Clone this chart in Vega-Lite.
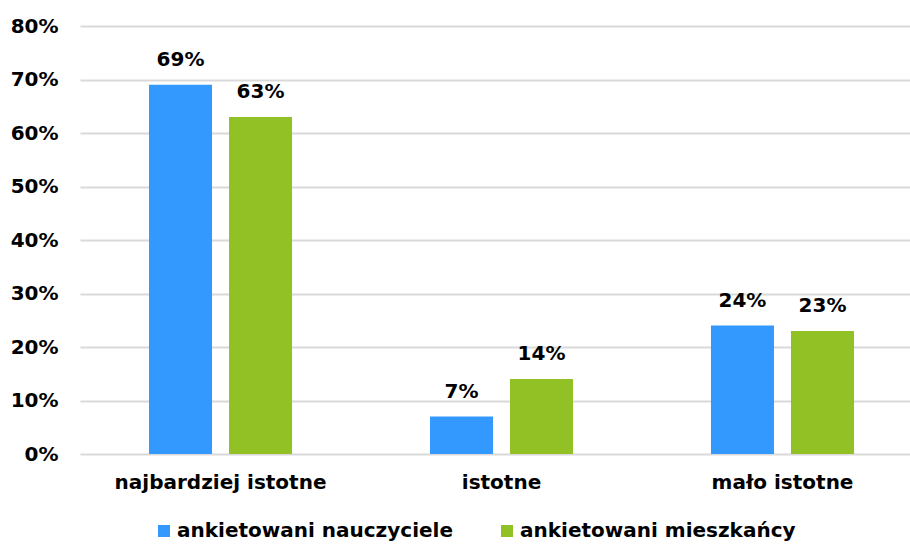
{
  "$schema": "https://vega.github.io/schema/vega-lite/v6.json",
  "width": 843,
  "height": 428,
  "padding": {"left": 10, "top": 16, "right": 0, "bottom": 0},
  "background": "white",
  "config": {
    "font": "DejaVu Sans",
    "view": {"stroke": null},
    "axis": {"labelFont": "DejaVu Sans", "labelFontWeight": "bold", "labelColor": "#000000"}
  },
  "data": {
    "values": [
      {"kategoria": "najbardziej istotne", "grupa": "ankietowani nauczyciele", "wartosc": 0.69},
      {"kategoria": "najbardziej istotne", "grupa": "ankietowani mieszkańcy", "wartosc": 0.63},
      {"kategoria": "istotne", "grupa": "ankietowani nauczyciele", "wartosc": 0.07},
      {"kategoria": "istotne", "grupa": "ankietowani mieszkańcy", "wartosc": 0.14},
      {"kategoria": "mało istotne", "grupa": "ankietowani nauczyciele", "wartosc": 0.24},
      {"kategoria": "mało istotne", "grupa": "ankietowani mieszkańcy", "wartosc": 0.23}
    ]
  },
  "encoding": {
    "x": {
      "field": "kategoria", "type": "nominal",
      "sort": ["najbardziej istotne", "istotne", "mało istotne"],
      "scale": {"paddingInner": 0.491, "paddingOuter": 0.2456},
      "axis": {"title": null, "labelAngle": 0, "domain": false, "ticks": false, "labelFontSize": 20, "labelPadding": 18, "labelLimit": 400}
    },
    "xOffset": {
      "field": "grupa", "type": "nominal",
      "sort": ["ankietowani nauczyciele", "ankietowani mieszkańcy"],
      "scale": {"paddingInner": 0.2125, "paddingOuter": 0}
    },
    "y": {
      "field": "wartosc", "type": "quantitative",
      "scale": {"domain": [0, 0.8]},
      "axis": {"title": null, "format": ".0%", "values": [0, 0.1, 0.2, 0.3, 0.4, 0.5, 0.6, 0.7, 0.8], "domain": false, "ticks": false, "labelFontSize": 20, "labelPadding": 22, "gridColor": "#d9d9d9", "gridWidth": 2}
    }
  },
  "layer": [
    {
      "mark": {"type": "bar"},
      "encoding": {
        "color": {
          "field": "grupa", "type": "nominal",
          "sort": ["ankietowani nauczyciele", "ankietowani mieszkańcy"],
          "scale": {"domain": ["ankietowani nauczyciele", "ankietowani mieszkańcy"], "range": ["#3399FF", "#92C125"]},
          "legend": {
            "title": null, "orient": "none", "legendX": 74, "legendY": 495, "direction": "horizontal",
            "symbolType": "square", "symbolSize": 144, "symbolStrokeWidth": 0,
            "labelFontSize": 20, "labelFontWeight": "bold", "labelColor": "#000000",
            "labelFont": "DejaVu Sans", "labelOffset": 3, "labelLimit": 400,
            "columnPadding": 44
          }
        }
      }
    },
    {
      "mark": {"type": "text", "baseline": "bottom", "dy": -15, "fontSize": 20, "fontWeight": "bold", "font": "DejaVu Sans", "color": "#000000"},
      "encoding": {
        "text": {"field": "wartosc", "type": "quantitative", "format": ".0%"}
      }
    }
  ]
}
